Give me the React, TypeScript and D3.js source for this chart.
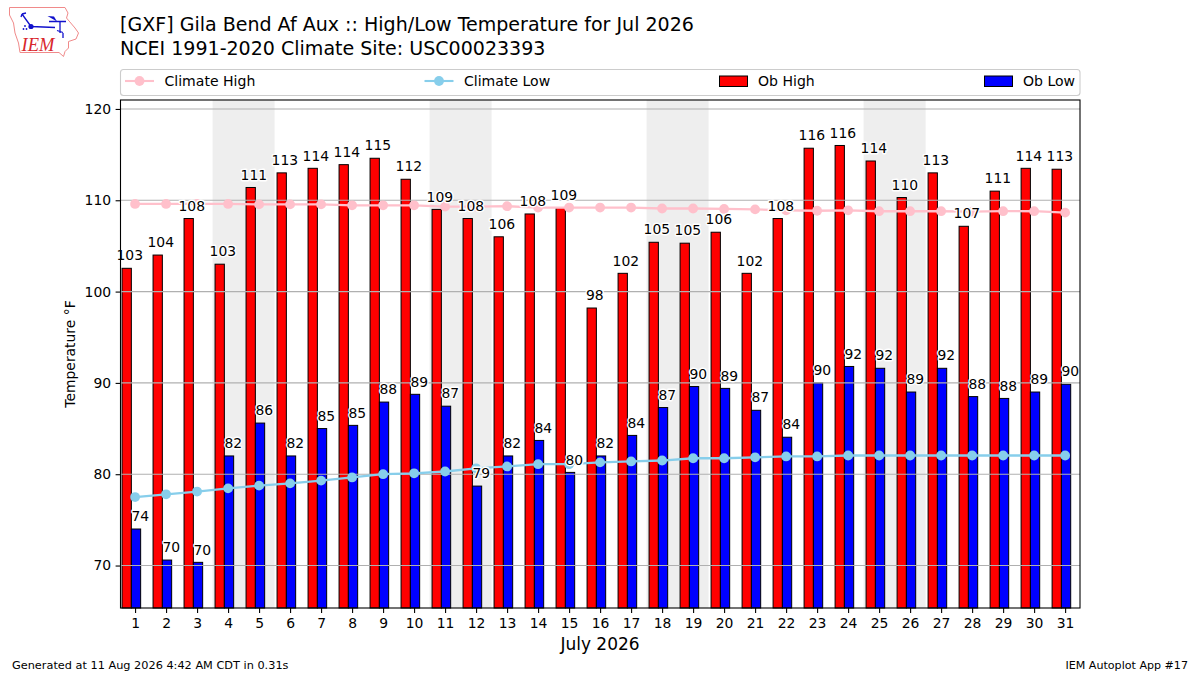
import { useEffect, useRef } from 'react';
import * as d3 from 'd3';

const days = d3.range(1, 32);
const obHigh = [102.55, 104, 108, 103, 111.4, 113, 113.5, 113.9, 114.6, 112.3, 109, 108, 106, 108.5, 109.2, 98.2, 102, 105.4, 105.3, 106.5, 102, 108, 115.7, 116, 114.3, 110.3, 113, 107.15, 111, 113.5, 113.4];
const obLow = [74, 70.6, 70.35, 82, 85.6, 82, 85, 85.35, 87.9, 88.75, 87.45, 78.7, 82, 83.7, 80.2, 82, 84.25, 87.3, 89.6, 89.4, 87, 84.05, 90, 91.8, 91.6, 89, 91.6, 88.5, 88.3, 89, 89.85];
// printed labels do not always equal the rounded bar height
const obHighLabels = [103, 104, 108, 103, 111, 113, 114, 114, 115, 112, 109, 108, 106, 108, 109, 98, 102, 105, 105, 106, 102, 108, 116, 116, 114, 110, 113, 107, 111, 114, 113];
const obLowLabels = [74, 70, 70, 82, 86, 82, 85, 85, 88, 89, 87, 79, 82, 84, 80, 82, 84, 87, 90, 89, 87, 84, 90, 92, 92, 89, 92, 88, 88, 89, 90];
const climateHigh = [109.6, 109.6, 109.6, 109.6, 109.55, 109.55, 109.55, 109.45, 109.45, 109.45, 109.3, 109.3, 109.35, 109.2, 109.2, 109.2, 109.2, 109.1, 109.1, 109.05, 109, 108.9, 108.85, 108.9, 108.8, 108.8, 108.8, 108.75, 108.8, 108.8, 108.65];
const climateLow = [77.5, 77.8, 78.1, 78.45, 78.75, 79, 79.3, 79.65, 80, 80.1, 80.3, 80.65, 80.85, 81.1, 81.1, 81.3, 81.4, 81.5, 81.75, 81.75, 81.85, 81.95, 81.95, 82.05, 82.05, 82.05, 82.05, 82.05, 82.05, 82.05, 82.05];
const weekends = [[3.5, 5.5], [10.5, 12.5], [17.5, 19.5], [24.5, 26.5]];
const yTicks = [70, 80, 90, 100, 110, 120];

const FONT = '"DejaVu Sans", sans-serif';

const App = () => {
  const svgRef = useRef<SVGSVGElement>(null);

  useEffect(() => {
    if (!svgRef.current) return;
    const svg = d3.select(svgRef.current);
    svg.selectAll('*').remove();
    svg.style('font-family', FONT);

    const left = 120.5, right = 1080, top = 100, bottom = 608;
    const x = d3.scaleLinear().domain([0.53, 31.48]).range([left, right]);
    const y = d3.scaleLinear().domain([65.35, 120.98]).range([bottom, top]);

    // weekend shading
    svg.selectAll('.weekend').data(weekends).enter().append('rect')
      .attr('x', d => x(d[0]))
      .attr('y', top)
      .attr('width', d => x(d[1]) - x(d[0]))
      .attr('height', bottom - top)
      .attr('fill', '#eeeeee');

    // bars
    const addBars = (values: number[], offset: number, color: string) => {
      svg.append('g').selectAll('rect').data(values).enter().append('rect')
        .attr('x', (d, i) => x(days[i] + offset))
        .attr('y', d => y(d))
        .attr('width', x(1.3) - x(1))
        .attr('height', d => bottom - y(d))
        .attr('fill', color)
        .attr('stroke', 'black')
        .attr('stroke-width', 1);
    };
    addBars(obHigh, -0.42, 'red');
    addBars(obLow, -0.12, 'blue');

    // grid lines sit above the bars
    svg.append('g').selectAll('line').data(yTicks).enter().append('line')
      .attr('x1', left)
      .attr('x2', right)
      .attr('y1', d => y(d))
      .attr('y2', d => y(d))
      .attr('stroke', '#b0b0b0')
      .attr('stroke-width', 1.1);

    // climate lines
    const addLine = (values: number[], color: string) => {
      const line = d3.line<number>().x((d, i) => x(days[i])).y(d => y(d));
      svg.append('path')
        .attr('d', line(values))
        .attr('fill', 'none')
        .attr('stroke', color)
        .attr('stroke-width', 2.3);
      svg.append('g').selectAll('circle').data(values).enter().append('circle')
        .attr('cx', (d, i) => x(days[i]))
        .attr('cy', d => y(d))
        .attr('r', 4.9)
        .attr('fill', color);
    };
    addLine(climateHigh, 'pink');
    addLine(climateLow, 'skyblue');

    // value labels with a white halo
    const addLabels = (values: number[], labels: number[], offset: number) => {
      svg.append('g').selectAll('text').data(values).enter().append('text')
        .attr('x', (d, i) => x(days[i] + offset))
        .attr('y', d => y(d) - 7.8)
        .attr('text-anchor', 'middle')
        .attr('font-size', 13.9)
        .attr('fill', 'black')
        .attr('stroke', 'white')
        .attr('stroke-width', 2.8)
        .attr('stroke-linejoin', 'round')
        .attr('paint-order', 'stroke')
        .text((d, i) => labels[i]);
    };
    addLabels(obHigh, obHighLabels, -0.17);
    addLabels(obLow, obLowLabels, 0.17);

    // frame and axes
    svg.append('rect')
      .attr('x', left)
      .attr('y', top)
      .attr('width', right - left)
      .attr('height', bottom - top)
      .attr('fill', 'none')
      .attr('stroke', 'black')
      .attr('stroke-width', 1.1);

    const xAxis = svg.append('g')
      .attr('transform', `translate(0,${bottom})`)
      .call(d3.axisBottom(x).tickValues(days).tickFormat(d3.format('d')).tickSize(4.9).tickPadding(5));
    const yAxis = svg.append('g')
      .attr('transform', `translate(${left},0)`)
      .call(d3.axisLeft(y).tickValues(yTicks).tickFormat(d3.format('d')).tickSize(4.9).tickPadding(4.5));
    [xAxis, yAxis].forEach(axis => {
      axis.select('.domain').remove();
      axis.selectAll('.tick line').attr('stroke', 'black').attr('stroke-width', 1.1);
      axis.selectAll('.tick text').attr('fill', 'black').style('font-size', '13.9px').style('font-family', FONT);
    });

    svg.append('text')
      .attr('x', 600)
      .attr('y', 649.5)
      .attr('text-anchor', 'middle')
      .attr('font-size', 17)
      .text('July 2026');

    svg.append('text')
      .attr('transform', 'translate(75,354) rotate(-90)')
      .attr('text-anchor', 'middle')
      .attr('font-size', 13.9)
      .text('Temperature °F');

    // titles
    svg.append('text').attr('x', 120).attr('y', 31).attr('font-size', 19.05)
      .text('[GXF] Gila Bend Af Aux :: High/Low Temperature for Jul 2026');
    svg.append('text').attr('x', 120).attr('y', 55).attr('font-size', 19.05)
      .text('NCEI 1991-2020 Climate Site: USC00023393');

    // legend
    svg.append('rect')
      .attr('x', 120.5)
      .attr('y', 69.5)
      .attr('width', 959.5)
      .attr('height', 26)
      .attr('rx', 3)
      .attr('fill', 'white')
      .attr('stroke', '#cccccc')
      .attr('stroke-width', 1.1);

    const legendText = (tx: number, label: string) => {
      svg.append('text').attr('x', tx).attr('y', 86).attr('font-size', 14.05).text(label);
    };
    const legendLine = (cx: number, color: string, label: string) => {
      svg.append('line')
        .attr('x1', cx - 14.5).attr('x2', cx + 14.5)
        .attr('y1', 81).attr('y2', 81)
        .attr('stroke', color).attr('stroke-width', 2.1);
      svg.append('circle').attr('cx', cx).attr('cy', 81).attr('r', 4.9).attr('fill', color);
      legendText(cx + 25, label);
    };
    const legendPatch = (px: number, color: string, label: string) => {
      svg.append('rect')
        .attr('x', px).attr('y', 76)
        .attr('width', 28).attr('height', 10.5)
        .attr('fill', color).attr('stroke', 'black').attr('stroke-width', 1);
      legendText(px + 38.5, label);
    };
    legendLine(139.5, 'pink', 'Climate High');
    legendLine(439, 'skyblue', 'Climate Low');
    legendPatch(719.5, 'red', 'Ob High');
    legendPatch(984.5, 'blue', 'Ob Low');

    // footer
    svg.append('text').attr('x', 12).attr('y', 669).attr('font-size', 11.3)
      .text('Generated at 11 Aug 2026 4:42 AM CDT in 0.31s');
    svg.append('text').attr('x', 1188).attr('y', 669).attr('font-size', 11.1).attr('text-anchor', 'end')
      .text('IEM Autoplot App #17');

    // IEM logo
    const logo = svg.append('g');
    logo.append('path')
      .attr('d', 'M9.5,7.5 L65,7.5 L68,13 L66.5,18 L75,28 L78.5,33 L76,39 L68.5,41.5 L68.5,48 L65,51.5 L63.5,56.5 L59,52.5 L20,52.5 L18.5,43 L15,33 L13.5,23 L9.5,15 Z')
      .attr('fill', 'white')
      .attr('stroke', '#f08a8a')
      .attr('stroke-width', 1);
    logo.append('path')
      .attr('d', 'M31,26.5 L22,14 M22,14 L21,17 M22,14 L26,13 M31,26.5 L55,27.5 M49,21.5 L66,21.5 M60,21.5 L60,33 M57,30.5 L63,32.5 M63,33 L63,38')
      .attr('fill', 'none')
      .attr('stroke', '#1111cc')
      .attr('stroke-width', 1.3);
    logo.append('circle').attr('cx', 31).attr('cy', 26.5).attr('r', 2.6).attr('fill', '#1111cc');
    logo.append('path').attr('d', 'M47.5,16 L54,16.5 L57,21.5 Z').attr('fill', '#1111cc');
    logo.selectAll('.dot').data([[25, 26], [23.5, 29], [26.5, 29]]).enter().append('circle')
      .attr('cx', d => d[0])
      .attr('cy', d => d[1])
      .attr('r', 0.9)
      .attr('fill', '#1111cc');
    logo.append('text')
      .attr('x', 21.5)
      .attr('y', 51)
      .attr('font-family', '"Liberation Serif", serif')
      .attr('font-style', 'italic')
      .attr('font-size', 18.5)
      .attr('fill', '#d8262c')
      .text('IEM');
  }, []);

  return (
    <svg
      ref={svgRef}
      width={1200}
      height={675}
      style={{ position: 'absolute', left: 0, top: 0, display: 'block', background: 'white' }}
    ></svg>
  );
};

export default App;
